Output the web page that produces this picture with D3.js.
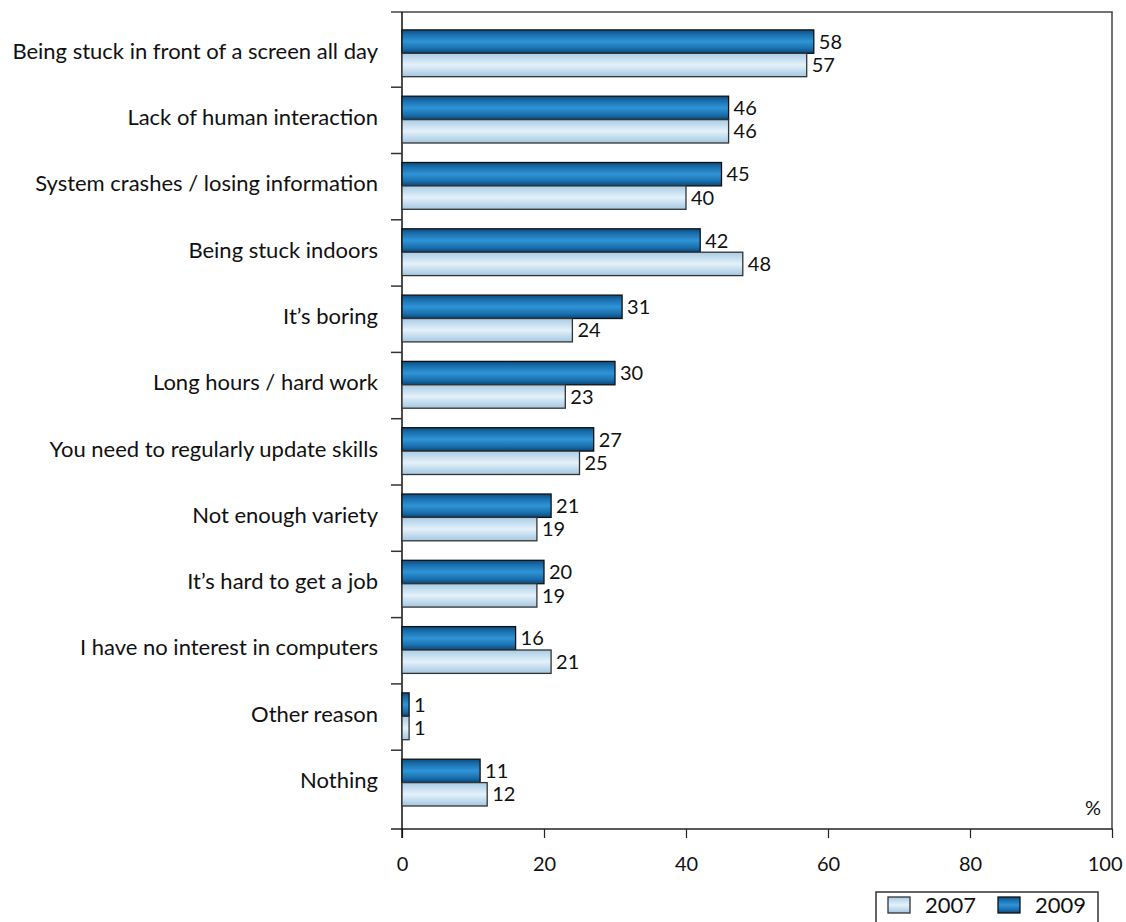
<!DOCTYPE html>
<html>
<head>
<meta charset="utf-8">
<script src="https://cdn.jsdelivr.net/npm/d3@7"></script>
<style>
  html, body { margin: 0; padding: 0; background: #fff; }
  svg { display: block; }
  text { font-family: Lato, "Open Sans", sans-serif; fill: #111; }
</style>
</head>
<body>
<svg id="chart" width="1126" height="922"></svg>
<script>
// Reasons given, top to bottom
const categories = [
  "Being stuck in front of a screen all day",
  "Lack of human interaction",
  "System crashes / losing information",
  "Being stuck indoors",
  "It\u2019s boring",
  "Long hours / hard work",
  "You need to regularly update skills",
  "Not enough variety",
  "It\u2019s hard to get a job",
  "I have no interest in computers",
  "Other reason",
  "Nothing"
];
const values2009 = [58, 46, 45, 42, 31, 30, 27, 21, 20, 16, 1, 11];
const values2007 = [57, 46, 40, 48, 24, 23, 25, 19, 19, 21, 1, 12];
const seriesNames = ["2009", "2007"];
const legendOrder = ["2007", "2009"];
const xTicks = [0, 20, 40, 60, 80, 100];

const svg = d3.select("#chart");
const labelSize = 22;   // category and legend text
const numberSize = 20;  // value labels and tick labels

const frame = { left: 402, right: 1112, top: 12, bottom: 829 };

const x = d3.scaleLinear().domain([0, 100]).range([frame.left, frame.right]);
const y = d3.scaleBand().domain(categories).range([20.9, 816.5]).padding(0);
const ySeries = d3.scaleBand().domain(seriesNames).range([9, 9 + 46.8]).padding(0);

// Vertical gradients giving the bars a rounded, glossy look
const defs = svg.append("defs");
function gradient(id, stops) {
  const g = defs.append("linearGradient").attr("id", id)
    .attr("x1", 0).attr("y1", 0).attr("x2", 0).attr("y2", 1);
  stops.forEach(([o, c]) => g.append("stop").attr("offset", o).attr("stop-color", c));
}
gradient("grad2009", [[0, "#0c4d80"], [0.2, "#1a6fae"], [0.5, "#2f94d6"], [0.8, "#1a6fae"], [1, "#0a4676"]]);
gradient("grad2007", [[0, "#a9cce5"], [0.5, "#e4f1fa"], [1, "#a3c7e1"]]);

const fills = { "2009": "url(#grad2009)", "2007": "url(#grad2007)" };
const strokes = { "2009": "#111", "2007": "#333" };

// Frame: top and right edges
svg.append("line").attr("x1", 391).attr("x2", frame.right + 0.75)
  .attr("y1", frame.top).attr("y2", frame.top)
  .attr("stroke", "#444").attr("stroke-width", 1.5);
svg.append("line").attr("x1", frame.right).attr("x2", frame.right)
  .attr("y1", frame.top).attr("y2", frame.bottom)
  .attr("stroke", "#444").attr("stroke-width", 1.5);

// X axis
const xAxis = d3.axisBottom(x).tickValues(xTicks).tickSize(9).tickSizeOuter(0).tickPadding(19);
const gx = svg.append("g").attr("transform", `translate(0,${frame.bottom})`).call(xAxis);
gx.select(".domain").attr("d", `M391,0H${frame.right + 0.75}`).attr("stroke", "#222").attr("stroke-width", 1.5);
gx.selectAll(".tick line").attr("stroke", "#222").attr("stroke-width", 1.2);
gx.selectAll(".tick text").attr("font-size", numberSize).attr("font-family", "Lato, sans-serif").attr("fill", "#111");
// keep the last tick label inside the page edge
gx.selectAll(".tick text").filter(d => d === 100).attr("text-anchor", "end").attr("x", 10);

// Y axis: ticks between the categories
const boundaries = categories.slice(1).map(c => y(c));
const gy = svg.append("g");
gy.append("line").attr("x1", frame.left).attr("x2", frame.left)
  .attr("y1", frame.top).attr("y2", frame.bottom + 9)
  .attr("stroke", "#111").attr("stroke-width", 1.5);
gy.selectAll("line.tick").data(boundaries).join("line").attr("class", "tick")
  .attr("x1", 391).attr("x2", frame.left)
  .attr("y1", d => d).attr("y2", d => d)
  .attr("stroke", "#333").attr("stroke-width", 1.5);

// Category labels
svg.append("g").selectAll("text").data(categories).join("text")
  .attr("x", 378)
  .attr("y", d => y(d) + y.bandwidth() / 2 - 3)
  .attr("dy", "0.35em")
  .attr("text-anchor", "end")
  .attr("font-size", labelSize)
  .text(d => d);

// Bars
const rows = categories.map((c, i) => ({
  category: c,
  items: [
    { series: "2009", value: values2009[i] },
    { series: "2007", value: values2007[i] }
  ]
}));

const groups = svg.append("g").selectAll("g").data(rows).join("g")
  .attr("transform", d => `translate(0,${y(d.category)})`);

groups.selectAll("rect").data(d => d.items).join("rect")
  .attr("x", x(0))
  .attr("y", d => ySeries(d.series))
  .attr("width", d => x(d.value) - x(0))
  .attr("height", ySeries.bandwidth())
  .attr("fill", d => fills[d.series])
  .attr("stroke", d => strokes[d.series])
  .attr("stroke-width", 1.3);

groups.selectAll("text").data(d => d.items).join("text")
  .attr("x", d => x(d.value) + 5)
  .attr("y", d => ySeries(d.series) + ySeries.bandwidth() / 2)
  .attr("dy", "0.36em")
  .attr("font-size", numberSize)
  .text(d => d.value);

// Unit label
svg.append("text").attr("x", 1093).attr("y", 808).attr("dy", "0.35em")
  .attr("text-anchor", "middle").attr("font-size", numberSize).text("%");

// Legend
const legend = svg.append("g").attr("transform", "translate(876,892)");
legend.append("rect").attr("x", 0).attr("y", 0).attr("width", 222).attr("height", 40)
  .attr("fill", "#fff").attr("stroke", "#333").attr("stroke-width", 1.5);
const legendX = { "2007": 12, "2009": 122 };
legendOrder.forEach(s => {
  legend.append("rect").attr("x", legendX[s]).attr("y", 5).attr("width", 22).attr("height", 16)
    .attr("fill", fills[s]).attr("stroke", strokes[s]).attr("stroke-width", 1.3);
  legend.append("text").attr("x", legendX[s] + 37).attr("y", 13).attr("dy", "0.36em")
    .attr("font-size", labelSize).text(s);
});
</script>
</body>
</html>
